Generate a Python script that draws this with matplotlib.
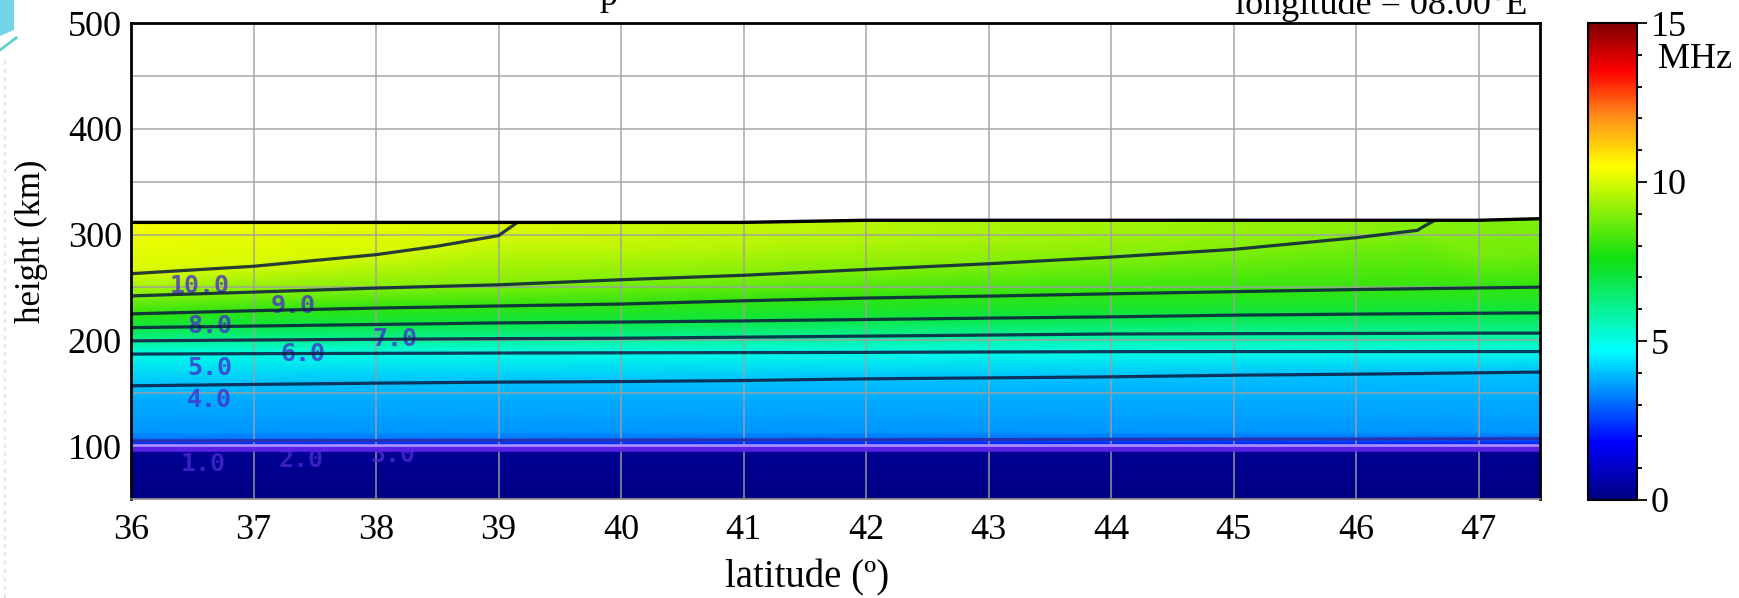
import numpy as np
import matplotlib
matplotlib.use("Agg")
import matplotlib.pyplot as plt
from matplotlib.colors import LinearSegmentedColormap, Normalize
from matplotlib.patches import Polygon
from matplotlib.lines import Line2D
from matplotlib.ticker import MultipleLocator

plt.rcParams['font.family'] = ['Liberation Serif', 'DejaVu Serif']
plt.rcParams['mathtext.fontset'] = 'stix'

# ---------------- data ----------------
lat = [36, 37, 38, 38.5, 39, 40, 41, 42, 43, 44, 45, 46, 46.5, 47, 47.5]

# heights (km) of iso-frequency rows for each latitude, with the plasma frequency (MHz) on them
h_floor = [50] * 15
f_floor = [0.1] * 15
h_dreg = [95.5] * 15
f_dreg = [0.3] * 15
h_1 = [98.0] * 15
f_1 = [1.0] * 15
h_2 = [101.5] * 15
f_2 = [2.0] * 15
h_3 = [105.0, 105.2, 105.3, 105.4, 105.5, 105.7, 105.9, 106.0, 106.2, 106.4, 106.5, 106.7, 106.8, 106.9, 107.0]
f_3 = [3.0] * 15
h_e1 = [113] * 15
f_e1 = [3.5] * 15
h_e2 = [145] * 15
f_e2 = [3.8] * 15
h_4 = [157, 158.3, 159.5, 160, 160.5, 161, 162, 163.6, 164.5, 165.5, 167, 168, 168.6, 169.3, 170]
f_4 = [4.0] * 15
h_5 = [187, 187.4, 187.7, 187.8, 188, 188.2, 188.4, 188.6, 189, 189.3, 189.4, 189.4, 189.4, 189.4, 189.4]
f_5 = [5.0] * 15
h_6 = [199.5, 200.3, 201, 201.3, 201.6, 202, 203, 204, 205, 206, 206.3, 206.5, 206.6, 206.8, 206.8]
f_6 = [6.0] * 15
h_7 = [212, 213.5, 215, 215.7, 216.5, 217.3, 218.4, 219.7, 221, 222.2, 223.8, 224.8, 225.2, 225.6, 226]
f_7 = [7.0] * 15
h_8 = [225, 228, 230.5, 231.5, 232.5, 234.3, 237.4, 240, 241.8, 244, 246, 248, 248.8, 249.5, 250.3]
f_8 = [8.0] * 15
h_9 = [242, 245.6, 249.4, 251, 252.5, 257.3, 261.5, 267, 272.4, 278.7, 286, 297, 304, 280, 282]
f_9 = [9, 9, 9, 9, 9, 9, 9, 9, 9, 9, 9, 9, 9, 8.8, 8.75]
h_10 = [263, 270, 281, 289, 299, 290, 291, 293, 295, 297, 300, 305, 309, 300, 302]
f_10 = [10, 10, 10, 10, 10, 9.75, 9.63, 9.5, 9.4, 9.3, 9.15, 9.06, 9.01, 8.92, 8.86]
h_top = [311.5, 311.5, 311.5, 311.5, 311.5, 311.5, 311.5, 313.5, 313.5, 313.5, 313.5, 313.5, 313.5, 313.5, 315]
f_top = [10.42, 10.29, 10.15, 10.09, 10.02, 9.89, 9.75, 9.62, 9.49, 9.35, 9.22, 9.09, 9.02, 8.95, 8.89]

contour_levels = [1, 2, 3, 4, 5, 6, 7, 8, 9, 10]
label_text = ['10.0', '9.0', '8.0', '7.0', '6.0', '5.0', '4.0', '3.0', '2.0', '1.0']
label_lat = [36.56, 37.32, 36.64, 38.15, 37.40, 36.64, 36.64, 38.14, 37.39, 36.59]
label_h = [251.3, 232.4, 214, 200.8, 187.2, 174, 144, 92, 87, 83.2]

x_ticks = list(range(36, 48))
y_ticks = [100, 200, 300, 400, 500]
cbar_ticks = [0, 5, 10, 15]

# ---------------- figure ----------------
W, Hpx = 1740, 598
fig = plt.figure(figsize=(W / 100, Hpx / 100), dpi=100)
ax = fig.add_axes([131 / W, 1 - 499 / Hpx, (1540 - 131) / W, (499 - 23) / Hpx])
cax = fig.add_axes([1588 / W, 1 - 500 / Hpx, 49 / W, 477 / Hpx])

cmap = LinearSegmentedColormap.from_list('fp', [
    (0 / 15, '#000080'), (1.8 / 15, '#0000ff'), (4.7 / 15, '#00ffff'),
    (7.6 / 15, '#10e010'), (10.5 / 15, '#ffff00'), (12.1 / 15, '#ff8c1a'),
    (13.5 / 15, '#ff0000'), (15 / 15, '#800000')])
norm = Normalize(0, 15)

Hgrid = np.array([h_floor, h_dreg, h_1, h_2, h_3, h_e1, h_e2, h_4, h_5, h_6,
                  h_7, h_8, h_9, h_10, h_top], dtype=float)
Fgrid = np.array([f_floor, f_dreg, f_1, f_2, f_3, f_e1, f_e2, f_4, f_5, f_6,
                  f_7, f_8, f_9, f_10, f_top], dtype=float)
LAT = np.tile(np.array(lat, dtype=float), (Hgrid.shape[0], 1))

pcm = ax.pcolormesh(LAT, Hgrid, Fgrid, cmap=cmap, norm=norm, shading='gouraud', zorder=1)

ax.contour(LAT, Hgrid, Fgrid, levels=contour_levels[3:], colors='#0a1a40',
           linewidths=2.3, alpha=0.85, zorder=2)
ax.contour(LAT, Hgrid, Fgrid, levels=[contour_levels[2]], colors='#2830b0',
           linewidths=2.2, zorder=2)
ax.contour(LAT, Hgrid, Fgrid, levels=[contour_levels[0]], colors='#5a22e6',
           linewidths=5.5, zorder=2)
ax.contour(LAT, Hgrid, Fgrid, levels=[contour_levels[1]], colors='#a58cff',
           linewidths=2.0, zorder=2.05)
ax.plot(lat, h_top, color='black', lw=2.4, zorder=3)

for t, x, y in zip(label_text, label_lat, label_h):
    ax.text(x, y, t, family='DejaVu Sans Mono', fontsize=18, fontweight='bold',
            color='#4a2ad0', alpha=0.78, ha='center', va='center', zorder=1.8)

ax.set_xlim(36, 47.5)
ax.set_ylim(50, 500)
ax.set_xticks(x_ticks)
ax.set_yticks(y_ticks)
ax.yaxis.set_minor_locator(MultipleLocator(50))
ax.grid(True, which='both', color='#a0a0a0', lw=1.2, alpha=0.85)
ax.tick_params(which='both', length=0, labelsize=26)
ax.tick_params(axis='y', pad=6.5)
ax.tick_params(axis='x', pad=11)
for s in ['left', 'top', 'right']:
    ax.spines[s].set_linewidth(2.0)
    ax.spines[s].set_color('black')
ax.spines['bottom'].set_color('#888888')
ax.spines['bottom'].set_linewidth(1.2)

ax.set_xlabel('latitude (º)', fontsize=28)
ax.xaxis.set_label_coords(0.48, -0.166)
ax.xaxis.label.set_va('center')
ax.set_ylabel('height (km)', fontsize=25)
ax.yaxis.set_label_coords(-0.0703, 0.542)
ax.yaxis.label.set_va('center')

cb = fig.colorbar(pcm, cax=cax, ticks=cbar_ticks)
cb.ax.yaxis.set_minor_locator(MultipleLocator(1))
cb.ax.tick_params(which='major', length=7, width=1.3, direction='out', labelsize=26, pad=3)
cb.ax.tick_params(which='minor', length=3.6, width=1.3, direction='out')
cb.outline.set_linewidth(1.5)
fig.text(1658 / W, 1 - 43 / Hpx, 'MHz', ha='left', va='top', fontsize=26)

# title fragments (cut by the top edge in the reference)
fig.text(1527 / W, 1 - 14 / Hpx, 'longitude = 08.00°E', ha='right', va='baseline', fontsize=26)
fig.text(608 / W, 1 - 5 / Hpx, 'p', ha='center', va='baseline', fontsize=26)

# slide decoration at the left edge
fig.patches.append(Polygon([(0, Hpx), (14, Hpx), (14, Hpx - 30), (0, Hpx - 36)],
                           closed=True, transform=None, facecolor='#74d5e8',
                           edgecolor='none', figure=fig))
fig.lines.append(Line2D([0, 16], [Hpx - 50, Hpx - 38], transform=None, color='#5fd0c8',
                        lw=2, figure=fig))
fig.lines.append(Line2D([5, 5], [0, Hpx - 60], transform=None, color='#e6e6e6',
                        lw=1.5, ls=(0, (2, 2)), figure=fig))

fig.savefig('out.png', dpi=100)
